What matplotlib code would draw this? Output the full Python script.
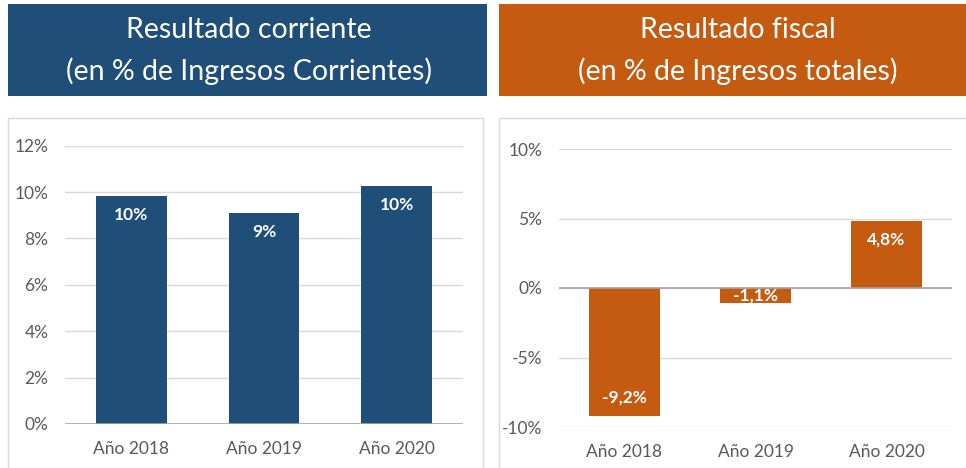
import matplotlib.pyplot as plt
from matplotlib.patches import Rectangle

plt.rcParams['font.family'] = ['Lato', 'DejaVu Sans']

categorias = ['Año 2018', 'Año 2019', 'Año 2020']
corriente = [9.83, 9.08, 10.27]
corriente_labels = ['10%', '9%', '10%']
fiscal = [-9.2, -1.1, 4.8]
fiscal_labels = ['-9,2%', '-1,1%', '4,8%']

azul = '#1F4E79'
naranja = '#C55A11'
gris_txt = '#595959'

W, H = 966, 468
fig = plt.figure(figsize=(W / 100, H / 100), dpi=100)


def px_box(x0, y0, x1, y1):
    # pixel box (top-left origin) -> figure fraction rect
    return x0 / W, 1 - y1 / H, (x1 - x0) / W, (y1 - y0) / H


# title boxes
for (x0, x1, tx, color, text) in [
    (8, 487, 249, azul, 'Resultado corriente\n(en % de Ingresos Corrientes)'),
    (499, 980, 738, naranja, 'Resultado fiscal\n(en % de Ingresos totales)'),
]:
    l, b, w, h = px_box(x0, 4, x1, 96)
    fig.patches.append(Rectangle((l, b), w, h, transform=fig.transFigure,
                                 facecolor=color, edgecolor='none', zorder=-5))
    fig.text(tx / W, 1 - 51 / H, text, color='white', fontsize=20.5,
             ha='center', va='center', linespacing=1.6)

# chart panel frames
for (x0, x1) in [(8, 483), (499, 990)]:
    l, b, w, h = px_box(x0, 118, x1, 500)
    fig.patches.append(Rectangle((l, b), w, h, transform=fig.transFigure,
                                 facecolor='white', edgecolor='#D9D9D9', lw=1,
                                 zorder=-5))


def draw(ax, values, labels, color, ylim, ticks, tick_labels, off):
    x = range(len(values))
    ax.bar(x, values, width=0.535, color=color, zorder=3)
    ax.set_xlim(-0.5, len(values) - 0.5)
    ax.set_ylim(*ylim)
    ax.set_yticks(ticks)
    ax.set_yticklabels(tick_labels)
    ax.set_xticks(list(x))
    ax.set_xticklabels(categorias)
    ax.grid(axis='y', color='#D9D9D9', lw=1, zorder=0)
    ax.axhline(0, color='#A6A6A6', lw=1.2, zorder=4)
    for s in ax.spines.values():
        s.set_visible(False)
    ax.tick_params(length=0, labelsize=12.5, colors=gris_txt)
    ax.tick_params(axis='y', pad=12)
    ax.tick_params(axis='x', pad=12)
    ax.set_facecolor('none')
    for xi, v, lab in zip(x, values, labels):
        d = min(off, abs(v) / 2)
        y = v - d if v > 0 else v + d
        ax.text(xi, y, lab, color='white', fontsize=12.5, fontweight='bold',
                ha='center', va='center', zorder=5)


ax1 = fig.add_axes(px_box(65, 145.7, 463, 424))
draw(ax1, corriente, corriente_labels, azul, (0, 12),
     [0, 2, 4, 6, 8, 10, 12], ['0%', '2%', '4%', '6%', '8%', '10%', '12%'], 0.82)

ax2 = fig.add_axes(px_box(559, 149, 952, 427))
draw(ax2, fiscal, fiscal_labels, naranja, (-10, 10),
     [-10, -5, 0, 5, 10], ['-10%', '-5%', '0%', '5%', '10%'], 1.3)

fig.savefig('out.png', dpi=100)
